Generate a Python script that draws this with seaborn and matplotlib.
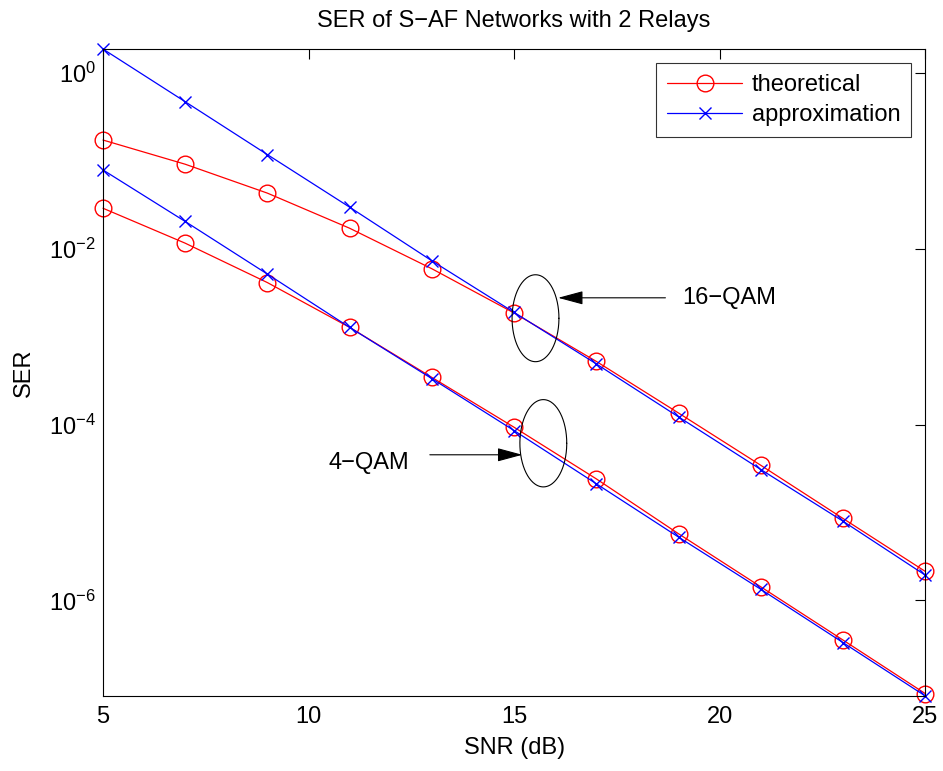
import numpy as np
import pandas as pd
import seaborn as sns
import matplotlib.pyplot as plt
import matplotlib.ticker as mtick

# SNR grid and SER values
snr = [5, 7, 9, 11, 13, 15, 17, 19, 21, 23, 25]
qam16_theory = [0.171, 0.0908, 0.0426, 0.0170, 5.89e-3, 1.85e-3, 5.21e-4, 1.35e-4, 3.44e-5, 8.55e-6, 2.14e-6]
qam16_approx = [1.85, 0.466, 0.1167, 0.0295, 7.25e-3, 1.88e-3, 4.88e-4, 1.22e-4, 3.08e-5, 7.96e-6, 1.94e-6]
qam4_theory = [0.0287, 0.0115, 4.1e-3, 1.27e-3, 3.43e-4, 9.3e-5, 2.41e-5, 5.73e-6, 1.43e-6, 3.55e-7, 8.75e-8]
qam4_approx = [0.0782, 0.0203, 5.12e-3, 1.27e-3, 3.32e-4, 8.53e-5, 2.12e-5, 5.25e-6, 1.34e-6, 3.32e-7, 8.22e-8]

series_labels = ['theoretical', 'approximation']
group_labels = ['16\u2212QAM', '4\u2212QAM']

sns.set_theme(style='white', rc={'axes.edgecolor': 'black', 'axes.linewidth': 0.8,
                                 'text.color': 'black', 'axes.labelcolor': 'black',
                                 'xtick.color': 'black', 'ytick.color': 'black'})
plt.rcParams['font.family'] = ['Liberation Sans', 'DejaVu Sans']
plt.rcParams['mathtext.fontset'] = 'custom'
plt.rcParams['mathtext.rm'] = 'Liberation Sans'

FS = 17
fig = plt.figure(figsize=(9.43, 7.71), dpi=100)
ax = fig.add_axes([0.1092, 0.0973, 0.8720, 0.8391])

styles = {
    'theoretical': dict(color='#ff0000', marker='o', markersize=12, markerfacecolor='none',
                        markeredgecolor='#ff0000', markeredgewidth=1.0),
    'approximation': dict(color='#0000ff', marker='x', markersize=9,
                          markeredgecolor='#0000ff', markeredgewidth=1.0),
}

curves = [
    ('theoretical', qam16_theory), ('approximation', qam16_approx),
    ('theoretical', qam4_theory), ('approximation', qam4_approx),
]
seen = set()
for name, vals in curves:
    df = pd.DataFrame({'snr': snr, 'ser': vals})
    sns.lineplot(data=df, x='snr', y='ser', ax=ax, linewidth=0.9, clip_on=False,
                 label=name if name not in seen else None, **styles[name])
    seen.add(name)

ax.set_yscale('log')
all_vals = qam16_theory + qam16_approx + qam4_theory + qam4_approx
ax.set_xlim(min(snr), max(snr))
ax.set_ylim(min(all_vals), max(all_vals))
ax.set_xticks([5, 10, 15, 20, 25])
ax.yaxis.set_major_locator(mtick.FixedLocator([1e-6, 1e-4, 1e-2, 1e0]))
ax.yaxis.set_minor_locator(mtick.NullLocator())
ax.yaxis.set_major_formatter(mtick.LogFormatterSciNotation())
ax.tick_params(direction='in', length=7, width=0.8, top=True, right=True,
               labelsize=FS, colors='black', pad=7)
ax.tick_params(axis='y', pad=5)
for s in ax.spines.values():
    s.set_visible(True)

ax.set_xlabel('SNR (dB)', fontsize=FS, labelpad=7)
ax.set_ylabel('SER', fontsize=FS, labelpad=10)
ax.set_title('SER of S\u2212AF Networks with 2 Relays', fontsize=FS, pad=16)

leg = ax.legend(loc='upper right', fontsize=FS, frameon=True, fancybox=False,
                edgecolor='black', borderaxespad=0.6, handlelength=3.2,
                labelspacing=0.35, borderpad=0.45, handletextpad=0.4)
leg.get_frame().set_linewidth(0.8)

# ellipses around the crossing points, drawn in log space
def draw_ellipse(xc, log_yc, half_w, half_h_dec):
    t = np.linspace(0, 2 * np.pi, 200)
    ax.plot(xc + half_w * np.cos(t), 10 ** (log_yc + half_h_dec * np.sin(t)),
            color='black', lw=0.8)

draw_ellipse(15.52, -2.792, 0.57, 0.494)
draw_ellipse(15.71, -4.213, 0.57, 0.496)

arrow = dict(arrowstyle='-|>,head_length=1.3,head_width=0.35', color='black', lw=0.8,
             shrinkA=0, shrinkB=0)
ax.annotate('', xy=(16.07, 10 ** -2.56), xytext=(18.68, 10 ** -2.56), arrowprops=arrow)
ax.text(19.1, 10 ** -2.56, group_labels[0], fontsize=FS, va='center', ha='left')
ax.annotate('', xy=(15.2, 10 ** -4.344), xytext=(12.95, 10 ** -4.344), arrowprops=arrow)
ax.text(12.45, 10 ** -4.44, group_labels[1], fontsize=FS, va='center', ha='right')

fig.savefig('out.png', dpi=100)
